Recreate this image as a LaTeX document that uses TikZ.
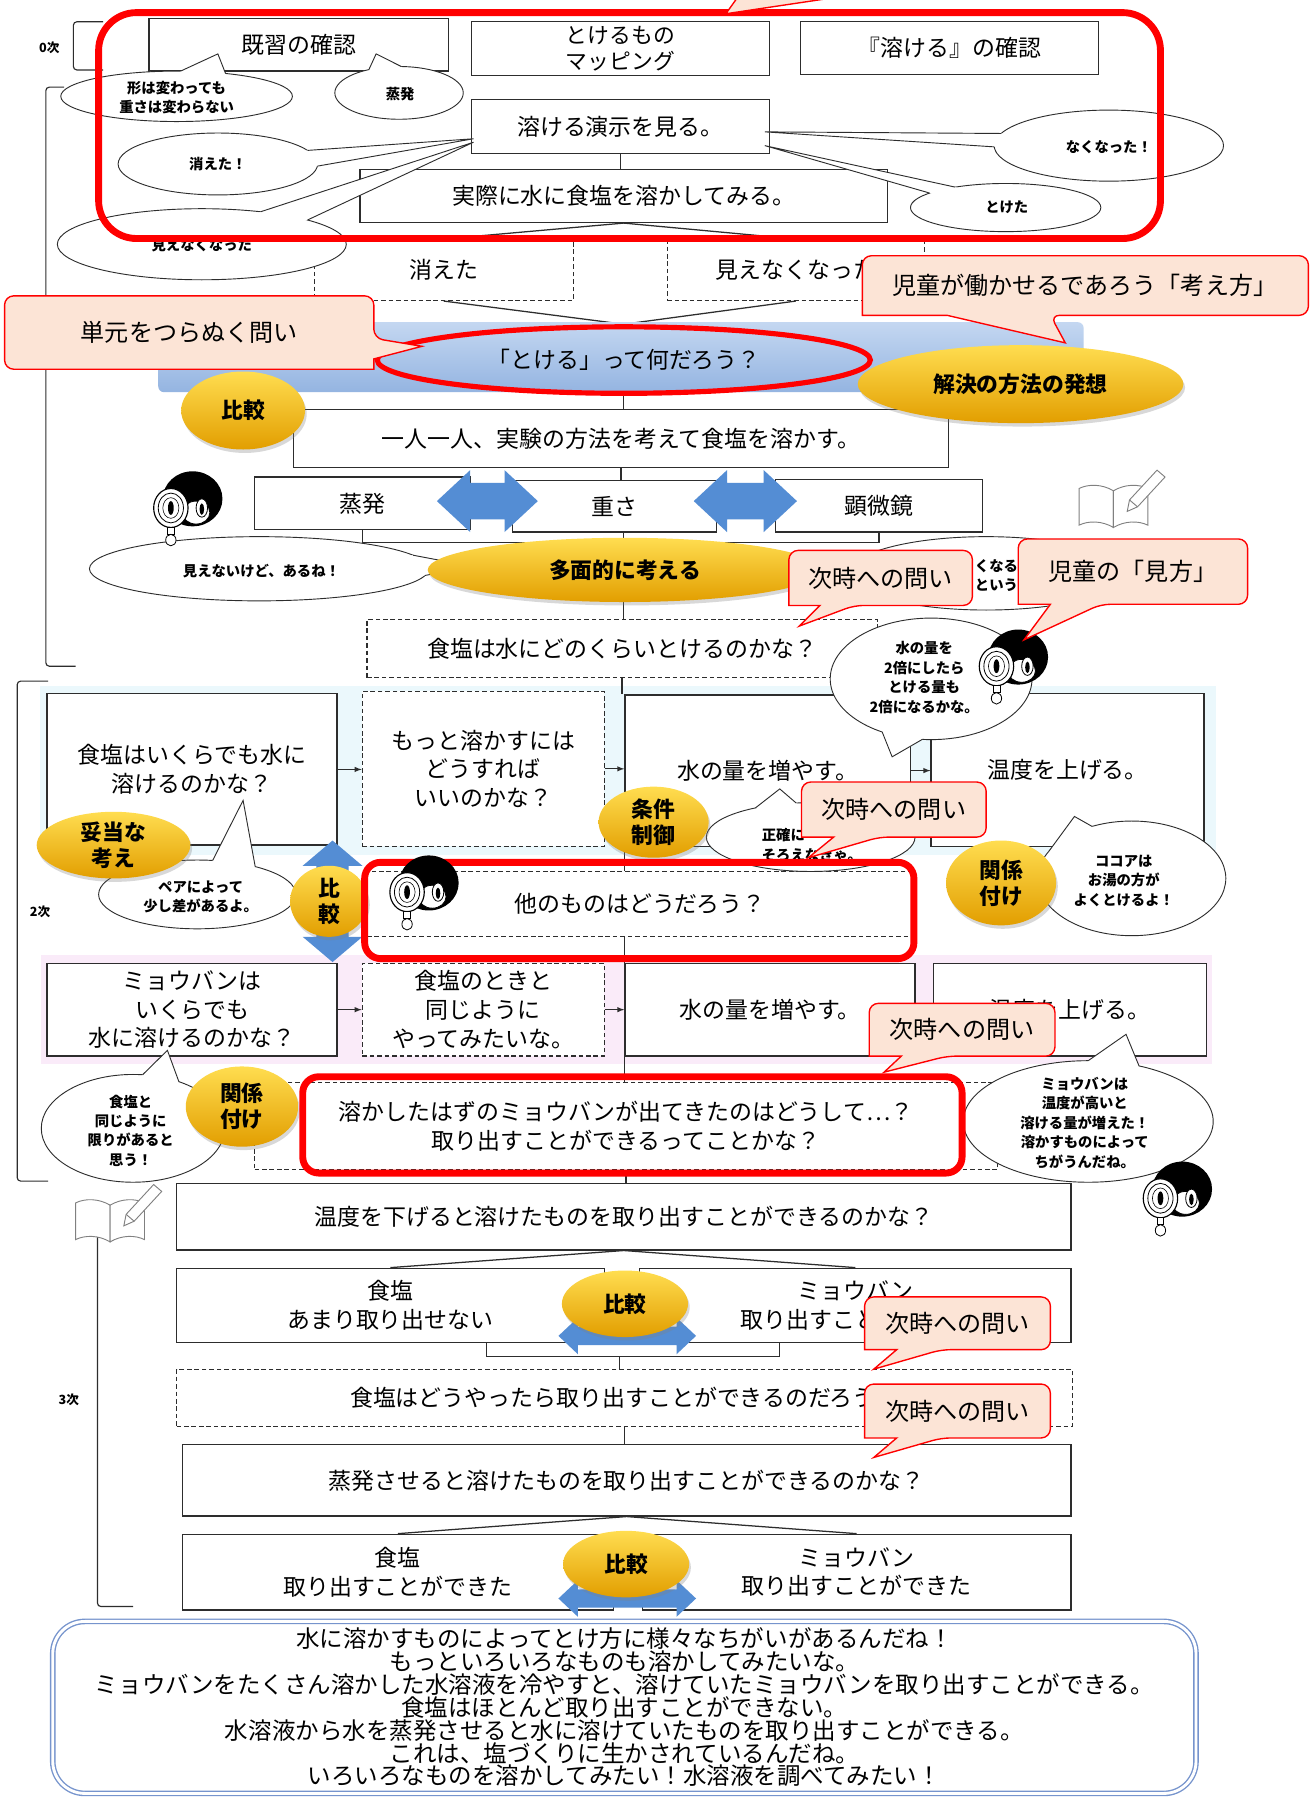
\documentclass[tikz,border=0pt]{standalone}
\usepackage{fontspec}
\setmainfont{Noto Sans CJK JP}
\usetikzlibrary{shapes.geometric,shadows,calc}

\definecolor{ink}{RGB}{45,45,45}
\definecolor{peach}{RGB}{252,228,214}
\definecolor{goldA}{RGB}{255,221,80}
\definecolor{goldB}{RGB}{226,158,0}
\definecolor{barA}{RGB}{196,215,241}
\definecolor{barB}{RGB}{148,180,225}
\definecolor{arrowblue}{RGB}{84,141,212}
\definecolor{bandcyan}{RGB}{235,248,252}
\definecolor{bandpink}{RGB}{250,235,249}
\definecolor{sumblue}{RGB}{118,148,205}

\pgfdeclarelayer{back}
\pgfdeclarelayer{links}
\pgfsetlayers{back,links,main}

\tikzset{
  conn/.style={draw=ink, line width=1.1pt},
  box/.style={draw=ink, line width=1.1pt, fill=white, align=center, inner sep=0pt, font=\fontsize{20}{25}\selectfont},
  dbox/.style={box, dash pattern=on 4pt off 2.5pt},
  kiiro/.style={ellipse, top color=goldA, bottom color=goldB, align=center, inner sep=0pt,
    font=\bfseries\fontsize{19}{23}\selectfont,
    drop shadow={opacity=0.3, shadow xshift=1.5pt, shadow yshift=-3pt}},
  bubble/.style={draw=ink, line width=0.8pt, fill=white},
  bubbletext/.style={align=center, inner sep=0pt, font=\bfseries\fontsize{12.5}{17}\selectfont},
  toi/.style={draw=red, line width=1.2pt, fill=peach, rounded corners=8pt},
  toitext/.style={inner sep=0pt, font=\fontsize{21}{25}\selectfont},
  redframe/.style={draw=red, line width=6pt},
  jisu/.style={inner sep=0pt, font=\bfseries\fontsize{11}{13}\selectfont},
  lookerface/.pic={
    \fill[black] (19,-8) ellipse (26 and 24);
    \draw[fill=white, line width=0.7pt] (22,4) ellipse (12 and 10);
    \draw[fill=white, line width=0.7pt] (27,0) ellipse (5 and 8);
    \fill[black] (27,1) ellipse (2 and 5);
    \draw[fill=white, line width=1pt] (0,0) ellipse (15 and 17);
    \draw[line width=0.7pt] (0,0) ellipse (11 and 13);
    \draw[line width=0.5pt] (0,0) ellipse (7 and 9);
    \fill[black] (0,0) ellipse (2.5 and 6);
    \draw[fill=white, line width=0.7pt] (-3,17) rectangle (3,23);
    \draw[fill=white, line width=0.7pt] (0,28) ellipse (4.5 and 5);
  },
  notebook/.pic={
    \draw[gray, line width=0.8pt, fill=white] (0,-12) .. controls (-10,-18) and (-22,-18) .. (-30,-14)
      -- (-30,18) .. controls (-22,14) and (-10,14) .. (0,20) -- cycle;
    \draw[gray, line width=0.8pt, fill=white] (0,-12) .. controls (10,-18) and (22,-18) .. (30,-14)
      -- (30,18) .. controls (22,14) and (10,14) .. (0,20) -- cycle;
    \draw[gray, line width=0.8pt, fill=white] (12,6) -- (14,-4) -- (38,-30) -- (45,-24) -- (21,2) -- cycle;
    \draw[gray, line width=0.8pt] (14,-4) -- (21,2);
  }
}

\newcommand{\fukidashi}[6]{%
  \draw[bubble] (#1) ellipse (#2 and #3);
  \fill[white] ($(#1)+(#4:#2 and #3)$) -- (#6) -- ($(#1)+(#5:#2 and #3)$) -- (#1) -- cycle;
  \draw[bubble, fill=none] ($(#1)+(#4:#2 and #3)$) -- (#6) -- ($(#1)+(#5:#2 and #3)$);
}
\newcommand{\yajirushi}[6]{%
  \fill[arrowblue, shift={(#1)}, rotate=#6]
    (-#2,0) -- ({-#2+#5},-#3) -- ({-#2+#5},-#4) -- ({#2-#5},-#4) -- ({#2-#5},-#3)
    -- (#2,0) -- ({#2-#5},#3) -- ({#2-#5},#4) -- ({-#2+#5},#4) -- ({-#2+#5},#3) -- cycle;
}

\begin{document}
\begin{tikzpicture}[x=1pt, y=-1pt]
\useasboundingbox (0,0) rectangle (1143,1568);

\begin{pgfonlayer}{back}
\fill[white] (0,0) rectangle (1143,1568);
\fill[bandcyan] (35,598) rectangle (1060,746);
\fill[bandpink] (36,833) rectangle (1057,928);
\end{pgfonlayer}

\draw[conn, line width=1pt, rounded corners=3pt] (56,76) -- (40,76) -- (40,581) -- (66,581);
\draw[conn, line width=1pt, rounded corners=3pt] (42,594) -- (15,594) -- (15,1030) -- (42,1030);
\draw[conn, line width=1pt, rounded corners=3pt] (85,1048) -- (85,1401) -- (116,1401);
\draw[conn, line width=1pt, rounded corners=3pt] (90,19) -- (64,19) -- (64,61) -- (90,61);
\node[jisu] (ji0) at (43,42) {0次};
\node[jisu] (ji2) at (35,795) {2次};
\node[jisu] (ji3) at (60,1221) {3次};

\path[top color=barA, bottom color=barB, rounded corners=5pt] (138,281) rectangle (945,342);

\node[box, minimum width=261pt, minimum height=46pt] (kishu) at (260.5,39) {既習の確認};
\node[box, minimum width=260pt, minimum height=47pt, font=\fontsize{19}{22}\selectfont] (mapping) at (541,42.5) {とけるもの\\マッピング};
\node[box, minimum width=260pt, minimum height=46pt] (kakunin) at (828,42) {『溶ける』の確認};
\node[box, minimum width=260pt, minimum height=47pt] (demo) at (541,110.5) {溶ける演示を見る。};
\node[box, minimum width=460pt, minimum height=46pt] (jissai) at (544,171) {実際に水に食塩を溶かしてみる。};
\node[dbox, minimum width=226pt, minimum height=53pt] (kieta) at (387,235.5) {消えた};
\node[dbox, minimum width=224pt, minimum height=53pt] (mienaku) at (694,235.5) {見えなくなった};
\node[ellipse, draw=red, line width=4.5pt, minimum width=430pt, minimum height=58pt, inner sep=0pt,
  font=\fontsize{20}{24}\selectfont] (toeru) at (544,314) {「とける」って何だろう？};
\node[box, minimum width=571pt, minimum height=51pt] (hitori) at (541.5,382.5) {一人一人、実験の方法を考えて食塩を溶かす。};
\node[box, minimum width=188pt, minimum height=46pt] (jouhatsu) at (316,439) {蒸発};
\node[box, minimum width=178pt, minimum height=45pt] (omosa) at (536,441.5) {重さ};
\node[box, minimum width=181pt, minimum height=46pt] (kenbikyo) at (766.5,441) {顕微鏡};
\node[dbox, minimum width=445pt, minimum height=51pt] (shio1) at (542.5,565.5) {食塩は水にどのくらいとけるのかな？};

\node[box, minimum width=253pt, minimum height=132pt] (ikura) at (167.5,671) {食塩はいくらでも水に\\溶けるのかな？};
\node[dbox, minimum width=211pt, minimum height=135pt] (motto) at (421.5,670.5) {もっと溶かすには\\どうすれば\\いいのかな？};
\node[box, minimum width=249pt, minimum height=132pt] (mizu1) at (669.5,672) {水の量を増やす。};
\node[box, minimum width=238pt, minimum height=133pt] (ondo1) at (931,671.5) {温度を上げる。};
\node[dbox, minimum width=476pt, minimum height=57pt] (hoka) at (558,788.5) {他のものはどうだろう？};
\node[box, minimum width=253pt, minimum height=81pt] (myo2) at (167.5,880.5) {ミョウバンは\\いくらでも\\水に溶けるのかな？};
\node[dbox, minimum width=211pt, minimum height=81pt] (onaji) at (421.5,880.5) {食塩のときと\\同じように\\やってみたいな。};
\node[box, minimum width=253pt, minimum height=81pt] (mizu2) at (671.5,880.5) {水の量を増やす。};
\node[box, minimum width=238pt, minimum height=81pt] (ondo2) at (933,880.5) {温度を上げる。};
\node[dbox, minimum width=648pt, minimum height=76pt] (tokashita) at (546,982) {溶かしたはずのミョウバンが出てきたのはどうして…？\\取り出すことができるってことかな？};

\node[box, minimum width=780pt, minimum height=58pt] (sageru) at (544,1061) {温度を下げると溶けたものを取り出すことができるのかな？};
\node[box, minimum width=373pt, minimum height=65pt] (shio3) at (340.5,1138.5) {食塩\\あまり取り出せない};
\node[box, minimum width=376pt, minimum height=65pt] (myo3) at (746,1138.5) {ミョウバン\\取り出すことができる};
\node[dbox, minimum width=781pt, minimum height=50pt] (dotoyatte) at (544.5,1219) {食塩はどうやったら取り出すことができるのだろう？};
\node[box, minimum width=775pt, minimum height=62pt] (jouhatsu3) at (546.5,1291) {蒸発させると溶けたものを取り出すことができるのかな？};
\node[box, minimum width=376pt, minimum height=66pt] (shio4) at (347,1371) {食塩\\取り出すことができた};
\node[box, minimum width=374pt, minimum height=66pt] (myo4) at (747,1371) {ミョウバン\\取り出すことができた};

\node[draw=sumblue, line width=1.2pt, double=white, double distance=2.5pt, rounded corners=28pt, fill=white,
  minimum width=997pt, minimum height=150pt, align=center, inner sep=0pt,
  font=\fontsize{20.5}{18.4}\selectfont] (matome) at (544.5,1489) {%
  水に溶かすものによってとけ方に様々なちがいがあるんだね！\\
  もっといろいろなものも溶かしてみたいな。\\
  ミョウバンをたくさん溶かした水溶液を冷やすと、溶けていたミョウバンを取り出すことができる。\\
  食塩はほとんど取り出すことができない。\\
  水溶液から水を蒸発させると水に溶けていたものを取り出すことができる。\\
  これは、塩づくりに生かされているんだね。\\
  いろいろなものを溶かしてみたい！水溶液を調べてみたい！};

\coordinate (j1) at (544,473);
\coordinate (j3) at (540,1183);
\begin{pgfonlayer}{links}
\draw[conn] (demo.south) -- (demo.south |- jissai.north);
\draw[conn] (jissai.south) -- (kieta.north);
\draw[conn] (jissai.south) -- (mienaku.north);
\draw[conn] (kieta.south) -- (toeru.north);
\draw[conn] (mienaku.south) -- (toeru.north);
\draw[conn] (toeru.south) -- (toeru.south |- hitori.north);
\draw[conn] (hitori.south) -- (hitori.south |- omosa.north);
\draw[conn] (jouhatsu.south) |- (j1) -| (kenbikyo.south);
\draw[conn] (j1 |- omosa.south) -- (j1);
\draw[conn] (j1) -- (j1 |- shio1.north);
\draw[conn] (shio1.south) -- (shio1.south |- mizu1.north);
\draw[conn] (mizu1.south west) -- (mizu1.south west |- hoka.north);
\draw[conn] (mizu2.north west |- hoka.south) -- (mizu2.north west);
\draw[conn] (mizu2.south west) -- (mizu2.south west |- tokashita.north);
\draw[conn] (tokashita.south) -- (tokashita.south |- sageru.north);
\draw[conn] (sageru.south) -- (shio3.north);
\draw[conn] (sageru.south) -- (myo3.north);
\draw[conn] ([xshift=84pt]shio3.south) |- (j3) -| ([xshift=-66pt]myo3.south);
\draw[conn] (j3) -- (j3 |- dotoyatte.north);
\draw[conn] (dotoyatte.south) -- (dotoyatte.south |- jouhatsu3.north);
\draw[conn] (jouhatsu3.south) -- (shio4.north);
\draw[conn] (jouhatsu3.south) -- (myo4.north);
\end{pgfonlayer}

\draw[conn, -latex] (ikura.east) -- (ikura.east -| motto.west);
\draw[conn, -latex] (motto.east) -- (motto.east -| mizu1.west);
\draw[conn, -latex] (mizu1.east) -- (mizu1.east -| ondo1.west);
\draw[conn, -latex] (myo2.east) -- (myo2.east -| onaji.west);
\draw[conn, -latex] (onaji.east) -- (onaji.east -| mizu2.west);
\draw[conn, -latex] (mizu2.east) -- (mizu2.east -| ondo2.west);

\yajirushi{425,437}{44}{27}{16}{29}{0}
\yajirushi{650,437}{45}{27}{16}{29}{0}
\yajirushi{290,786}{53}{26}{14}{22}{90}
\yajirushi{547,1165}{60}{16}{8}{17}{0}
\yajirushi{547,1394}{60}{16}{8}{17}{0}

\fukidashi{154,84}{101}{22}{-88}{-65}{190,47}
\node[bubbletext] (b1) at (154,85) {形は変わっても\\重さは変わらない};
\fukidashi{348,81}{56}{23}{-118}{-88}{328,47}
\node[bubbletext] (b2) at (349,82) {蒸発};
\fukidashi{190,143}{87}{27}{-26}{4}{413,121}
\node[bubbletext] (b3) at (190,143) {消えた！};
\fukidashi{176,213}{126}{31}{-66}{-43}{413,124}
\node[bubbletext] (b4) at (176,214) {見えなくなった};
\fukidashi{967,127}{100}{31}{178}{200}{667,115}
\node[bubbletext] (b5) at (967,128) {なくなった！};
\fukidashi{877,181}{83}{21}{217}{238}{667,127}
\node[bubbletext] (b6) at (878,181) {とけた};
\fukidashi{226,496}{148}{28}{-25}{12}{412,494}
\node[bubbletext] (b7) at (228,498) {見えないけど、あるね！};
\draw[bubble] (860,500) ellipse (120 and 32);
\node[bubbletext] (b8) at (869,502) {くなる\\という};
\fukidashi{812,592}{88}{53}{95}{119}{778,660}
\node[bubbletext] (b9) at (806,591) {水の量を\\2倍にしたら\\とける量も\\2倍になるかな。};
\fukidashi{172,780}{86}{30}{-81}{-54}{212,698}
\node[bubbletext] (b10) at (175,782) {ペアによって\\少し差があるよ。};
\fukidashi{707,730}{91}{30}{238}{262}{680,688}
\node[bubbletext, align=left] (b11) at (708,737) {正確に\\そろえなきゃ。};
\fukidashi{987,766}{82}{50}{208}{245}{937,712}
\node[bubbletext] (b12) at (980,768) {ココアは\\お湯の方が\\よくとけるよ！};
\fukidashi{116,984}{80}{47}{-84}{-60}{146,916}
\node[bubbletext] (b13) at (114,986) {食塩と\\同じように\\限りがあると\\思う！};
\fukidashi{949,978}{109}{53}{-90}{-66}{982,902}
\node[bubbletext] (b14) at (946,979) {ミョウバンは\\温度が高いと\\溶ける量が増えた！\\溶かすものによって\\ちがうんだね。};

\node[kiiro, minimum width=284pt, minimum height=68pt] (kaiketsu) at (890,335) {解決の方法の発想};
\node[kiiro, minimum width=108pt, minimum height=68pt] (hikaku1) at (212,358) {比較};
\node[kiiro, minimum width=344pt, minimum height=56pt] (tamen) at (545,497) {多面的に考える};
\node[kiiro, minimum width=134pt, minimum height=56pt] (datou) at (99,737) {妥当な\\考え};
\node[kiiro, minimum width=68pt, minimum height=62pt] (hikaku2) at (287,786) {比\\較};
\node[kiiro, minimum width=96pt, minimum height=62pt] (jouken) at (570,717) {条件\\制御};
\node[kiiro, minimum width=96pt, minimum height=74pt] (kankei1) at (873,770) {関係\\付け};
\node[kiiro, minimum width=98pt, minimum height=70pt] (kankei2) at (211,965) {関係\\付け};
\node[kiiro, minimum width=110pt, minimum height=58pt] (hikaku3) at (545,1137) {比較};
\node[kiiro, minimum width=110pt, minimum height=58pt] (hikaku4) at (546,1364) {比較};

\draw[redframe, rounded corners=33pt] (86,11) rectangle (1012,208);
\draw[redframe, rounded corners=14pt] (318,752) rectangle (797,836);
\draw[redframe, rounded corners=14pt] (264,939) rectangle (839,1023);

\pic (f1) at (149,443) {lookerface};
\pic (f2) at (869,581) {lookerface};
\pic (f3) at (355,778) {lookerface};
\pic (f4) at (1012,1045) {lookerface};
\pic (nb1) at (971,440) {notebook};
\pic (nb2) at (96,1063) {notebook};

\fill[peach] (643,-2) -- (633,12) -- (727,-2) -- cycle;
\draw[red, line width=1.2pt] (643,-2) -- (633,12) -- (727,-2);

\filldraw[toi] (4,258) -- (326,258) -- (326,295) [sharp corners] -- (368,302) -- (326,313) -- (326,322)
  [rounded corners=8pt] -- (4,322) -- cycle;
\node[toitext] (tangen) at (165,290) {単元をつらぬく問い};
\filldraw[toi] (752,223) -- (1141,223) -- (1141,275) -- (916,275) [sharp corners] -- (929,299) -- (826,275)
  -- (752,275) [rounded corners=8pt] -- cycle;
\node[toitext] (kangae) at (946,249) {児童が働かせるであろう「考え方」};
\filldraw[toi] (688,480) -- (848,480) -- (848,528) -- (745,528) [sharp corners] -- (697,546) -- (715,528)
  -- (688,528) [rounded corners=8pt] -- cycle;
\node[toitext] (toi1) at (768,504) {次時への問い};
\filldraw[toi] (888,470) -- (1088,470) -- (1088,527) -- (960,527) [sharp corners] -- (893,558) -- (916,527)
  -- (888,527) [rounded corners=8pt] -- cycle;
\node[toitext] (mikata) at (988,498.5) {児童の「見方」};
\filldraw[toi] (699,682) -- (860,682) -- (860,730) -- (767,730) [sharp corners] -- (705,748) -- (727,730)
  -- (699,730) [rounded corners=8pt] -- cycle;
\node[toitext] (toi2) at (779.5,706) {次時への問い};
\filldraw[toi] (758,875) -- (920,875) -- (920,921) -- (826,921) [sharp corners] -- (771,935) -- (786,921)
  -- (758,921) [rounded corners=8pt] -- cycle;
\node[toitext] (toi3) at (839,898) {次時への問い};
\filldraw[toi] (754,1131) -- (916,1131) -- (916,1177) -- (821,1177) [sharp corners] -- (762,1194) -- (782,1177)
  -- (754,1177) [rounded corners=8pt] -- cycle;
\node[toitext] (toi4) at (835,1154) {次時への問い};
\filldraw[toi] (754,1207) -- (916,1207) -- (916,1254) -- (821,1254) [sharp corners] -- (762,1271) -- (782,1254)
  -- (754,1254) [rounded corners=8pt] -- cycle;
\node[toitext] (toi5) at (835,1230.5) {次時への問い};
\end{tikzpicture}
\end{document}
